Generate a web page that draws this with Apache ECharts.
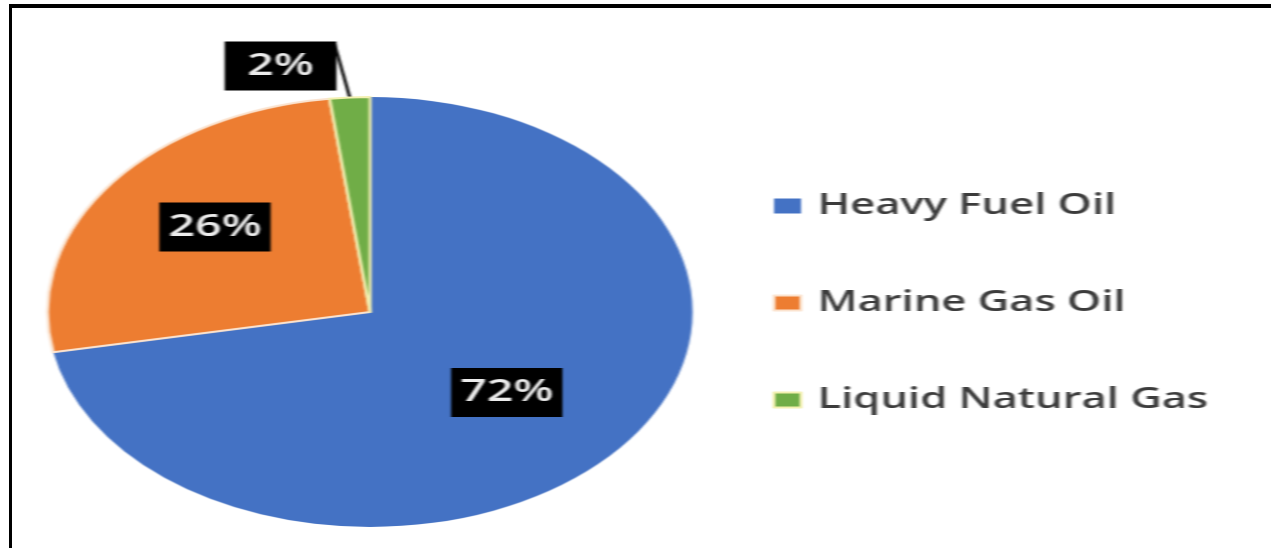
<!DOCTYPE html>
<html>
<head>
<meta charset="utf-8">
<script src="https://cdn.jsdelivr.net/npm/echarts@6/dist/echarts.min.js"></script>
<style>
  html, body { margin: 0; padding: 0; background: #fff; width: 1271px; height: 548px; overflow: hidden; }
  /* chart is laid out narrow and stretched sideways, giving the wide oval pie */
  #chart { position: absolute; left: 0; top: 0; width: 848px; height: 548px;
           transform: scaleX(1.5); transform-origin: 0 0; filter: blur(0.6px); }
  #frame { position: absolute; left: 9px; top: 4px; width: 1262px; height: 544px;
           border-left: 3px solid #000; border-top: 4px solid #000; box-sizing: border-box; pointer-events: none; }
</style>
</head>
<body>
<div id="chart"></div>
<div id="frame"></div>
<script>
// Ship fuel mix (share of consumption, %)
const categories = ['Heavy Fuel Oil', 'Marine Gas Oil', 'Liquid Natural Gas'];
const shares = [72, 26, 2];
const sliceColors = ['#4472C4', '#ED7D31', '#70AD47'];
const sliceBorders = ['#4472C4', '#fbe3cf', '#f3f0b0'];

const pieCenter = [246.7, 312];
const pieRadius = 215;

const chart = echarts.init(document.getElementById('chart'), null, { renderer: 'canvas' });

const data = categories.map((name, i) => ({
  name: name,
  value: shares[i],
  itemStyle: {
    color: sliceColors[i],
    borderColor: sliceBorders[i],
    borderWidth: i === 0 ? 0 : 2
  },
  label: i === 2
    ? { position: 'outside', padding: [9, 15, 9, 15] }
    : { position: 'inside' },
  labelLine: { show: i === 2 }
}));

// mid-angle of the small slice's outer rim, for its leader line
function rimPoint(index) {
  const total = shares.reduce((a, b) => a + b, 0);
  let before = 0;
  for (let k = 0; k < index; k++) before += shares[k];
  const mid = (before + shares[index] / 2) / total * 2 * Math.PI;
  return [pieCenter[0] + pieRadius * Math.sin(mid), pieCenter[1] - pieRadius * Math.cos(mid)];
}

chart.setOption({
  animation: false,
  backgroundColor: '#fff',
  legend: {
    orient: 'vertical',
    left: 515,
    top: 191,
    padding: 0,
    itemWidth: 18,
    itemHeight: 15,
    itemGap: 67,
    icon: 'rect',
    selectedMode: false,
    textStyle: {
      fontFamily: 'Open Sans',
      fontWeight: 600,
      fontSize: 29,
      lineHeight: 30,
      color: '#3c3c3c',
      padding: [0, 0, 0, 6]
    },
    data: categories
  },
  series: [{
    type: 'pie',
    center: pieCenter,
    radius: [0, pieRadius],
    startAngle: 90,
    clockwise: true,
    avoidLabelOverlap: false,
    silent: true,
    label: {
      show: true,
      formatter: '{c}%',
      fontFamily: 'Open Sans',
      fontWeight: 600,
      fontSize: 31,
      color: '#ececec',
      backgroundColor: '#000',
      padding: [9, 6, 9, 6]
    },
    labelLine: {
      show: true,
      lineStyle: { color: '#111', width: 2.2 }
    },
    labelLayout: function (params) {
      if (params.dataIndex === 0) return { dx: 6, dy: 10 };
      if (params.dataIndex === 1) return { dx: -14, dy: -20 };
      const rim = rimPoint(2);
      return {
        x: 187, y: 66, align: 'center', verticalAlign: 'middle',
        labelLinePoints: [rim, [(rim[0] + 223) / 2, (rim[1] + 44) / 2], [223, 44]]
      };
    },
    data: data
  }]
});
</script>
</body>
</html>
